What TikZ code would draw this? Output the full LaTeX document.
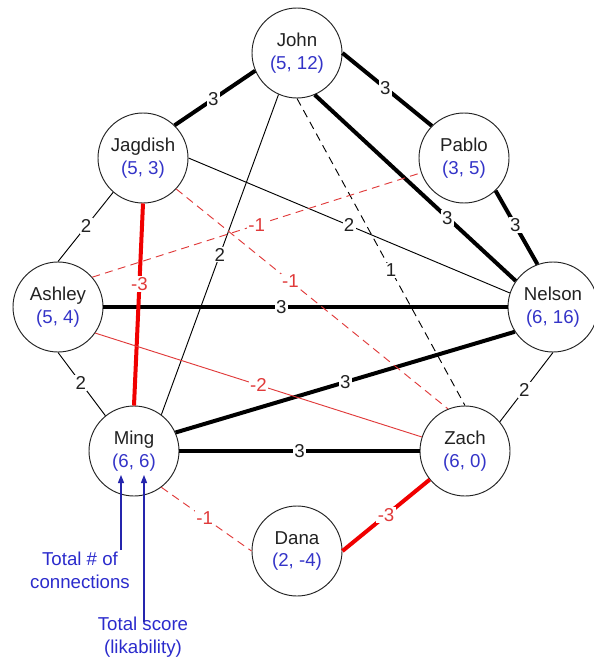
\documentclass[tikz,border=0pt]{standalone}
\usepackage{fontspec}
\setmainfont{Liberation Sans}
\usepackage{xcolor}
\usepackage{tikz}
\usetikzlibrary{arrows.meta}
\definecolor{ink}{HTML}{222222}
\definecolor{score}{HTML}{3434C8}
\definecolor{notes}{HTML}{2B2BCC}
\definecolor{neg}{HTML}{F00000}
\definecolor{negl}{HTML}{E03A3A}
\tikzset{
  pers/.style={circle, draw=ink, fill=white, line width=0.7pt, minimum size=67.5pt, inner sep=0pt,
    align=center, text=ink, font=\fontsize{14pt}{17pt}\selectfont},
  heavy/.style={draw=black, line width=3pt},
  light/.style={draw=black, line width=0.7pt},
  lightdash/.style={light, dash pattern=on 6pt off 4pt},
  negheavy/.style={draw=neg, line width=3pt},
  neglight/.style={draw=negl, line width=0.7pt},
  negdash/.style={neglight, dash pattern=on 6pt off 4pt},
  wlab/.style={fill=white, inner sep=1pt, text=ink, font=\fontsize{14pt}{17pt}\selectfont},
  wlabr/.style={wlab, text=negl},
  note/.style={align=center, text=notes, font=\fontsize{14pt}{17pt}\selectfont, inner sep=1pt},
  notearrow/.style={draw=notes!85!black, line width=0.8pt, -{Triangle[length=6pt,width=4.5pt]}},
}
\newcommand{\pscore}[1]{\\\textcolor{score}{#1}}

\begin{document}
\begin{tikzpicture}[x=0.75pt, y=-0.75pt]
  \useasboundingbox (0,0) rectangle (593,660);

  \node[pers] (john)    at (297, 53) {John\pscore{(5, 12)}};
  \node[pers] (jagdish) at (143,158) {Jagdish\pscore{(5, 3)}};
  \node[pers] (pablo)   at (464,158) {Pablo\pscore{(3, 5)}};
  \node[pers] (ashley)  at ( 58,307) {Ashley\pscore{(5, 4)}};
  \node[pers] (nelson)  at (553,307) {Nelson\pscore{(6, 16)}};
  \node[pers] (ming)    at (134,451) {Ming\pscore{(6, 6)}};
  \node[pers] (zach)    at (465,451) {Zach\pscore{(6, 0)}};
  \node[pers] (dana)    at (297,551) {Dana\pscore{(2, -4)}};

  % positive ties
  \draw[heavy] (john.203) -- node[wlab, pos=.52] {3} (jagdish.46);
  \draw[heavy] (john.0) -- node[wlab, pos=.48] {3} (pablo.135);
  \draw[heavy] (john.293) -- node[wlab, pos=.66] {3} (nelson.145);
  \draw[heavy] (pablo.314) -- node[wlab, pos=.47] {3} (nelson.110);
  \draw[light] (john.246) -- node[wlab, pos=.5] {2} (ming.53);
  \draw[lightdash] (john.270) -- node[wlab, pos=.56] {1} (zach.90);
  \draw[light] (jagdish.229) -- node[wlab, pos=.49] {2} (ashley.90);
  \draw[light] (jagdish.0) -- node[wlab, pos=.5] {2} (nelson.162);
  \draw[heavy] (ashley.0) -- node[wlab, pos=.44] {3} (nelson.180);
  \draw[light] (ashley.270) -- node[wlab, pos=.48] {2} (ming.129);
  \draw[heavy] (nelson.213) -- node[wlab, pos=.5] {3} (ming.24);
  \draw[light] (nelson.270) -- node[wlab, pos=.54] {2} (zach.40);
  \draw[heavy] (ming.0) -- node[wlab, pos=.5] {3} (zach.180);

  % negative ties
  \draw[negheavy] (jagdish.270) -- node[wlabr, pos=.4] {-3} (ming.90);
  \draw[negdash] (jagdish.317) -- node[wlabr, pos=.42] {-1} (zach.112);
  \draw[negdash] (ashley.41) -- node[wlabr, pos=.5] {-1} (pablo.199);
  \draw[neglight] (ashley.325) -- node[wlabr, pos=.5] {-2} (zach.162);
  \draw[negdash] (ming.307) -- node[wlabr, pos=.48] {-1} (dana.180);
  \draw[negheavy] (zach.219) -- node[wlabr, pos=.5] {-3} (dana.0);

  % legend
  \coordinate (tipc) at (121,475);
  \coordinate (tips) at (144,475);
  \node[note] (conn)  at ( 80,570) {Total \# of\\connections};
  \node[note] (likab) at (143,637) {Total score\\(likability)};
  \draw[notearrow] (conn.north -| tipc) -- (tipc);
  \draw[notearrow] ([yshift=-5pt]likab.north -| tips) -- (tips);
\end{tikzpicture}
\end{document}
